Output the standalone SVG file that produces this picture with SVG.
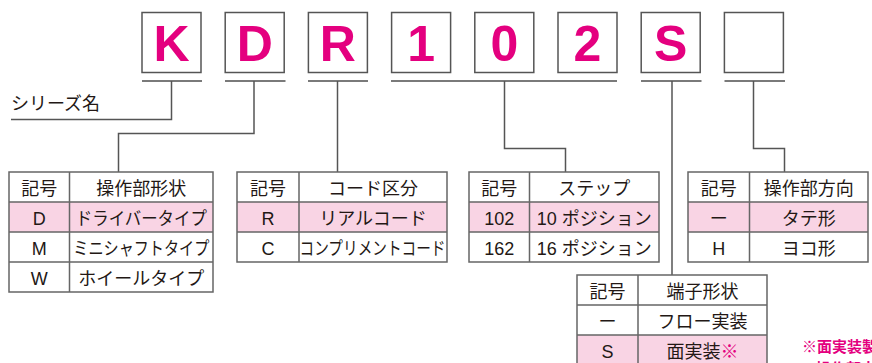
<svg xmlns="http://www.w3.org/2000/svg" width="872" height="363" viewBox="0 0 872 363">
<style>
.box{fill:#fff;stroke:#555;stroke-width:1.5}
.big{font-family:"Liberation Sans",Arial,sans-serif;font-weight:bold;font-size:50px;fill:#e4007f;text-anchor:middle}
.ul{stroke:#7a7a7a;stroke-width:2;fill:none}
.con{stroke:#555;stroke-width:1.5;fill:none}
.tb{fill:none;stroke:#666;stroke-width:1.5}
.pink{fill:#f9d4e4}
.jp{font-family:"Noto Sans CJK JP","Noto Sans",sans-serif;font-size:18px;fill:#231815;text-anchor:middle}
.lt{font-family:"Liberation Sans","Noto Sans CJK JP",sans-serif;font-size:18px;fill:#231815;text-anchor:middle}
.note{font-family:"Noto Sans CJK JP",sans-serif;font-size:15px;font-weight:bold;fill:#e4007f}
</style>

<g id="code">
<g id="c1"><rect class="box" x="142" y="12.5" width="59" height="60"/><text class="big" x="171.5" y="61">K</text></g>
<g id="c2"><rect class="box" x="225.2" y="12.5" width="59" height="60"/><text class="big" x="254.7" y="61">D</text></g>
<g id="c3"><rect class="box" x="308.4" y="12.5" width="59" height="60"/><text class="big" x="337.9" y="61">R</text></g>
<g id="c4"><rect class="box" x="391.6" y="12.5" width="59" height="60"/><text class="big" x="421.1" y="61">1</text></g>
<g id="c5"><rect class="box" x="474.8" y="12.5" width="59" height="60"/><text class="big" x="504.3" y="61">0</text></g>
<g id="c6"><rect class="box" x="558" y="12.5" width="59" height="60"/><text class="big" x="587.5" y="61">2</text></g>
<g id="c7"><rect class="box" x="641.2" y="12.5" width="59" height="60"/><text class="big" x="670.7" y="61">S</text></g>
<g id="c8"><rect class="box" x="724.4" y="12.5" width="59" height="60"/></g>
</g>

<g id="connectors">
<path class="ul" d="M142 81H202M225 81H285.5M308 81H368M391 81H617M641 81H701.5M724.5 81H785"/>
<path class="con" d="M171.5 81V119.5H11"/>
<path class="con" d="M254 81V133.5H118.5V172"/>
<path class="con" d="M337.5 81V172"/>
<path class="con" d="M504.5 81V148.5H565.5V172"/>
<path class="con" d="M672 81V275"/>
<path class="con" d="M753.5 81V148.5H784.5V172"/>
</g>

<g id="series"><text class="jp" style="text-anchor:start" x="11" y="110">シリーズ名</text></g>

<g id="t1">
<rect class="pink" x="9" y="202" width="204" height="30"/>
<path class="tb" d="M9 172H213V292H9ZM9 202H213M9 232H213M9 262H213M69.5 172V292"/>
<text class="jp" x="39.3" y="194.5">記号</text><text class="jp" x="141.3" y="194.5">操作部形状</text>
<text class="lt" x="39.3" y="224.5">D</text><text class="jp" x="141.3" y="224.5" textLength="131" lengthAdjust="spacingAndGlyphs">ドライバータイプ</text>
<text class="lt" x="39.3" y="254.5">M</text><text class="jp" x="141.3" y="254.5" textLength="136" lengthAdjust="spacingAndGlyphs">ミニシャフトタイプ</text>
<text class="lt" x="39.3" y="284.5">W</text><text class="jp" x="141.3" y="284.5">ホイールタイプ</text>
</g>

<g id="t2">
<rect class="pink" x="237" y="202" width="210" height="30"/>
<path class="tb" d="M237 172H447V262H237ZM237 202H447M237 232H447M299 172V262"/>
<text class="jp" x="268" y="194.5">記号</text><text class="jp" x="373" y="194.5">コード区分</text>
<text class="lt" x="268" y="224.5">R</text><text class="jp" x="373" y="224.5">リアルコード</text>
<text class="lt" x="268" y="254.5">C</text><text class="jp" x="372.5" y="254.5" textLength="146" lengthAdjust="spacingAndGlyphs">コンプリメントコード</text>
</g>

<g id="t3">
<rect class="pink" x="469" y="202" width="190" height="30"/>
<path class="tb" d="M469 172H659V262H469ZM469 202H659M469 232H659M529.5 172V262"/>
<text class="jp" x="499.3" y="194.5">記号</text><text class="jp" x="594.3" y="194.5">ステップ</text>
<text class="lt" x="499.3" y="224.5">102</text><text class="lt" x="594.3" y="224.5">10 ポジション</text>
<text class="lt" x="499.3" y="254.5">162</text><text class="lt" x="594.3" y="254.5">16 ポジション</text>
</g>

<g id="t4">
<rect class="pink" x="688" y="202" width="180" height="30"/>
<path class="tb" d="M688 172H868V262H688ZM688 202H868M688 232H868M749.5 172V262"/>
<text class="jp" x="718.8" y="194.5">記号</text><text class="jp" x="808.8" y="194.5">操作部方向</text>
<text class="jp" x="718.8" y="224.5">ー</text><text class="jp" x="808.8" y="224.5">タテ形</text>
<text class="lt" x="718.8" y="254.5">H</text><text class="jp" x="808.8" y="254.5">ヨコ形</text>
</g>

<g id="t5">
<rect class="pink" x="577" y="335" width="190" height="30"/>
<path class="tb" d="M577 275H767V365H577ZM577 305H767M577 335H767M638 275V365"/>
<text class="jp" x="607.5" y="297.5">記号</text><text class="jp" x="702.5" y="297.5">端子形状</text>
<text class="jp" x="607.5" y="327.5">ー</text><text class="jp" x="702.5" y="327.5">フロー実装</text>
<text class="lt" x="607.5" y="357.5">S</text><text class="jp" x="702.5" y="357.5">面実装<tspan fill="#e4007f">※</tspan></text>
</g>

<g id="note">
<text class="note" x="802" y="352">※面実装製</text>
<text class="note" x="816" y="374">操作部方</text>
</g>
</svg>
